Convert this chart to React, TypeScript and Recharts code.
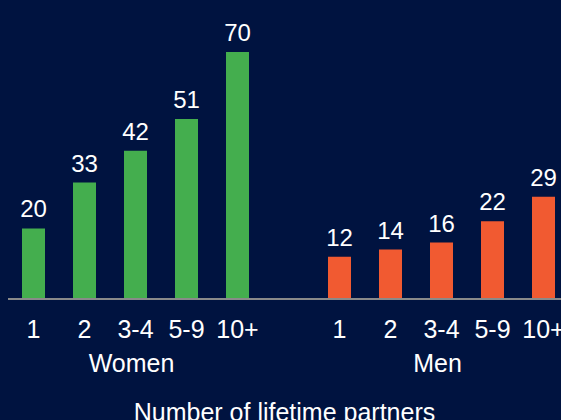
import React from 'react'
import { BarChart, Bar, XAxis, YAxis, Cell, LabelList, Label } from 'recharts'

const categories = ['1', '2', '3-4', '5-9', '10+']
const womenValues = [20, 33, 42, 51, 70]
const menValues = [12, 14, 16, 22, 29]
const groups = ['Women', 'Men']
const axisTitle = 'Number of lifetime partners'

const WOMEN_COLOR = '#44ae4e'
const MEN_COLOR = '#f15a31'
const BG = '#001340'
const FONT = '"Liberation Sans", Arial, sans-serif'

// one row per bar, with an empty slot between the two groups
const rows = [
  ...categories.map((c, i) => ({ key: `w-${c}`, label: c, value: womenValues[i], group: groups[0] })),
  { key: 'gap', label: '', value: null as number | null, group: '' },
  ...categories.map((c, i) => ({ key: `m-${c}`, label: c, value: menValues[i], group: groups[1] })),
]

function Tick(props: any) {
  const { x, y, index } = props
  const row = rows[index]
  if (!row) return null
  const middle = categories[Math.floor(categories.length / 2)]
  return (
    <g>
      <text x={x} y={y + 39} textAnchor="middle" fill="#fff" fontSize={25} fontFamily={FONT}>
        {row.label}
      </text>
      {row.label === middle && (
        <text x={x - 4} y={y + 73} textAnchor="middle" fill="#fff" fontSize={25} fontFamily={FONT}>
          {row.group}
        </text>
      )}
    </g>
  )
}

export default function App() {
  return (
    <div style={{ position: 'fixed', left: 0, top: 0, width: 561, height: 420, background: BG, overflow: 'hidden' }}>
      <BarChart
        width={570}
        height={420}
        data={rows}
        margin={{ top: 52, right: 1, bottom: 0, left: 8 }}
        barCategoryGap="55%"
      >
        <XAxis
          dataKey="key"
          height={121}
          interval={0}
          tickSize={0}
          tickMargin={0}
          tickLine={false}
          axisLine={{ stroke: '#8a8a8a', strokeWidth: 2 }}
          tick={<Tick />}
        >
          <Label
            value={axisTitle}
            position="insideBottom"
            offset={-1}
            fill="#fff"
            fontSize={25}
            fontFamily={FONT}
            dx={-4}
          />
        </XAxis>
        <YAxis hide domain={[0, 70]} />
        <Bar dataKey="value" barSize={23} isAnimationActive={false}>
          {rows.map((r) => (
            <Cell key={r.key} fill={r.group === groups[0] ? WOMEN_COLOR : MEN_COLOR} />
          ))}
          <LabelList dataKey="value" position="top" offset={11} fill="#fff" fontSize={24} fontFamily={FONT} />
        </Bar>
      </BarChart>
    </div>
  )
}
